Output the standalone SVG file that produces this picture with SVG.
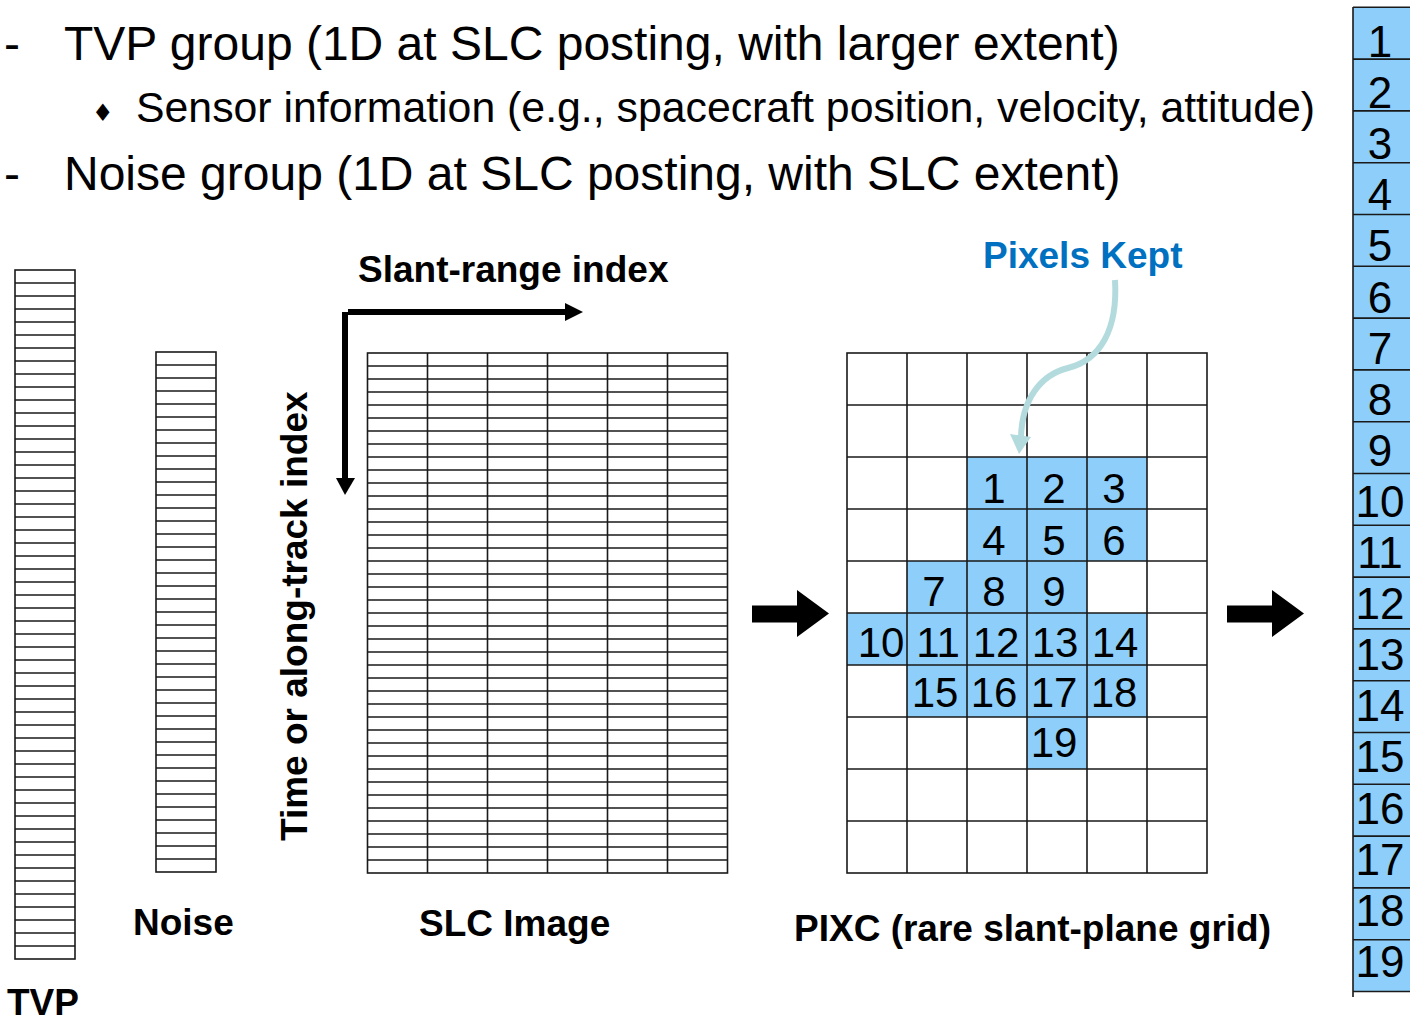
<svg xmlns="http://www.w3.org/2000/svg" width="1410" height="1021" viewBox="0 0 1410 1021">
<style>
  text { font-family: "Liberation Sans", Arial, sans-serif; fill: #000; }
  .hdr { font-size: 48px; }
  .sub { font-size: 42.8px; }
  .lbl { font-size: 37px; font-weight: bold; }
  .num { font-size: 42px; text-anchor: middle; }
  .col { font-size: 44px; text-anchor: middle; }
  .grid { fill: none; stroke: #1a1a1a; stroke-width: 1.6; }
  .kept { fill: #8dcffa; }
</style>
<rect width="1410" height="1021" fill="#fff"/>

<g id="header">
  <text class="hdr" x="4" y="60">-</text>
  <text class="hdr" x="64" y="60">TVP group (1D at SLC posting, with larger extent)</text>
  <text x="92" y="121" style="font-size:24px;font-family:'DejaVu Sans',sans-serif">♦</text>
  <text class="sub" x="136" y="122">Sensor information (e.g., spacecraft position, velocity, attitude)</text>
  <text class="hdr" x="4" y="190">-</text>
  <text class="hdr" x="64" y="190">Noise group (1D at SLC posting, with SLC extent)</text>
</g>

<g id="tvp">
  <rect class="grid" x="15" y="270" width="60" height="689"/>
  <path class="grid" d="M15,283h60M15,296h60M15,309h60M15,322h60M15,335h60M15,348h60M15,361h60M15,374h60M15,387h60M15,400h60M15,413h60M15,426h60M15,439h60M15,452h60M15,465h60M15,478h60M15,491h60M15,504h60M15,517h60M15,530h60M15,543h60M15,556h60M15,569h60M15,582h60M15,595h60M15,608h60M15,621h60M15,634h60M15,647h60M15,660h60M15,673h60M15,686h60M15,699h60M15,712h60M15,725h60M15,738h60M15,751h60M15,764h60M15,777h60M15,790h60M15,803h60M15,816h60M15,829h60M15,842h60M15,855h60M15,868h60M15,881h60M15,894h60M15,907h60M15,920h60M15,933h60M15,946h60"/>
  <text class="lbl" x="7" y="1015">TVP</text>
</g>

<g id="noise">
  <rect class="grid" x="156" y="352" width="60" height="520"/>
  <path class="grid" d="M156,365h60M156,378h60M156,391h60M156,404h60M156,417h60M156,430h60M156,443h60M156,456h60M156,469h60M156,482h60M156,495h60M156,508h60M156,521h60M156,534h60M156,547h60M156,560h60M156,573h60M156,586h60M156,599h60M156,612h60M156,625h60M156,638h60M156,651h60M156,664h60M156,677h60M156,690h60M156,703h60M156,716h60M156,729h60M156,742h60M156,755h60M156,768h60M156,781h60M156,794h60M156,807h60M156,820h60M156,833h60M156,846h60M156,859h60"/>
  <text class="lbl" x="133" y="935">Noise</text>
</g>

<g id="slc">
  <rect class="grid" x="367.5" y="353" width="360" height="520"/>
  <path class="grid" d="M427.5,353v520M487.5,353v520M547.5,353v520M607.5,353v520M667.5,353v520"/>
  <path class="grid" d="M367.5,366h360M367.5,379h360M367.5,392h360M367.5,405h360M367.5,418h360M367.5,431h360M367.5,444h360M367.5,457h360M367.5,470h360M367.5,483h360M367.5,496h360M367.5,509h360M367.5,522h360M367.5,535h360M367.5,548h360M367.5,561h360M367.5,574h360M367.5,587h360M367.5,600h360M367.5,613h360M367.5,626h360M367.5,639h360M367.5,652h360M367.5,665h360M367.5,678h360M367.5,691h360M367.5,704h360M367.5,717h360M367.5,730h360M367.5,743h360M367.5,756h360M367.5,769h360M367.5,782h360M367.5,795h360M367.5,808h360M367.5,821h360M367.5,834h360M367.5,847h360M367.5,860h360"/>
  <text class="lbl" x="419" y="936">SLC Image</text>
</g>

<g id="axes">
  <rect x="348" y="309" width="218" height="6" fill="#000"/>
  <polygon points="565,303 583,312 565,321" fill="#000"/>
  <rect x="342" y="312" width="6" height="167" fill="#000"/>
  <polygon points="336,478 355,478 345,495" fill="#000"/>
  <text class="lbl" x="358" y="282">Slant-range index</text>
  <text class="lbl" transform="translate(307,841) rotate(-90)" x="0" y="0">Time or along-track index</text>
</g>

<g id="pixc">
  <rect class="kept" x="967" y="457" width="180" height="104"/>
  <rect class="kept" x="907" y="561" width="180" height="52"/>
  <rect class="kept" x="847" y="613" width="300" height="52"/>
  <rect class="kept" x="907" y="665" width="240" height="52"/>
  <rect class="kept" x="1027" y="717" width="60" height="52"/>
  <rect class="grid" x="847" y="353" width="360" height="520"/>
  <path class="grid" d="M907,353v520M967,353v520M1027,353v520M1087,353v520M1147,353v520"/>
  <path class="grid" d="M847,405h360M847,457h360M847,509h360M847,561h360M847,613h360M847,665h360M847,717h360M847,769h360M847,821h360"/>
  <text class="num" x="994" y="503">1</text>
  <text class="num" x="1054" y="503">2</text>
  <text class="num" x="1114" y="503">3</text>
  <text class="num" x="994" y="555">4</text>
  <text class="num" x="1054" y="555">5</text>
  <text class="num" x="1114" y="555">6</text>
  <text class="num" x="934" y="606">7</text>
  <text class="num" x="994" y="606">8</text>
  <text class="num" x="1054" y="606">9</text>
  <text class="num" x="881" y="657">10</text>
  <text class="num" x="938" y="657">11</text>
  <text class="num" x="996" y="657">12</text>
  <text class="num" x="1055" y="657">13</text>
  <text class="num" x="1115" y="657">14</text>
  <text class="num" x="935" y="707">15</text>
  <text class="num" x="994" y="707">16</text>
  <text class="num" x="1054" y="707">17</text>
  <text class="num" x="1114" y="707">18</text>
  <text class="num" x="1054" y="757">19</text>
  <text class="lbl" x="794" y="941">PIXC (rare slant-plane grid)</text>
</g>

<g id="pixels-kept">
  <text class="lbl" x="983" y="268" style="fill:#0070c0">Pixels Kept</text>
</g>

<g id="output">
  <rect class="kept" x="1353" y="7.3" width="60" height="984.2"/>
  <path class="grid" d="M1353,7.3H1412M1353,59.1H1412M1353,110.9H1412M1353,162.7H1412M1353,214.5H1412M1353,266.3H1412M1353,318.1H1412M1353,369.9H1412M1353,421.7H1412M1353,473.5H1412M1353,525.3H1412M1353,577.1H1412M1353,628.9H1412M1353,680.7H1412M1353,732.5H1412M1353,784.3H1412M1353,836.1H1412M1353,887.9H1412M1353,939.7H1412M1353,991.5H1412M1353,7V997"/>
  <text class="col" x="1380" y="57">1</text>
  <text class="col" x="1380" y="108.1">2</text>
  <text class="col" x="1380" y="159.2">3</text>
  <text class="col" x="1380" y="210.3">4</text>
  <text class="col" x="1380" y="261.4">5</text>
  <text class="col" x="1380" y="312.5">6</text>
  <text class="col" x="1380" y="363.6">7</text>
  <text class="col" x="1380" y="414.7">8</text>
  <text class="col" x="1380" y="465.8">9</text>
  <text class="col" x="1380" y="516.9">10</text>
  <text class="col" x="1380" y="568">11</text>
  <text class="col" x="1380" y="619.1">12</text>
  <text class="col" x="1380" y="670.2">13</text>
  <text class="col" x="1380" y="721.3">14</text>
  <text class="col" x="1380" y="772.4">15</text>
  <text class="col" x="1380" y="823.5">16</text>
  <text class="col" x="1380" y="874.6">17</text>
  <text class="col" x="1380" y="925.7">18</text>
  <text class="col" x="1380" y="976.8">19</text>
</g>

<g id="connectors">
  <path d="M1115,280 C1118,330 1100,360 1068,368 C1040,375 1022,400 1021,437" fill="none" stroke="#b3dbde" stroke-width="6"/>
  <polygon points="1010,434 1031,437 1019,454" fill="#b3dbde"/>
  <polygon points="752,605.5 797,605.5 797,590 829,613.5 797,637 797,622.5 752,622.5" fill="#000"/>
  <polygon points="1227,605.5 1272,605.5 1272,590 1304,613.5 1272,637 1272,622.5 1227,622.5" fill="#000"/>
</g>
</svg>
